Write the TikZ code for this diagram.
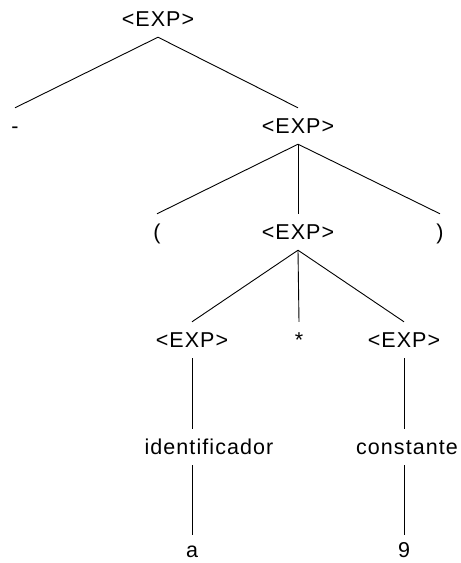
\documentclass[tikz,border=0pt]{standalone}
\usepackage{fontspec}
\setmainfont{Liberation Sans}[LetterSpace=5]
\begin{document}
\begin{tikzpicture}[x=1pt,y=-1pt,
	sym/.style={anchor=base,inner sep=0pt,text height=25pt,text depth=11pt,font=\fontsize{21.5}{26}\selectfont},
	leaf/.style={sym,text height=22pt,text depth=1pt},
	edge/.style={line width=.9pt}]
	\useasboundingbox (0,0) rectangle (461,563);
	%ROOT
	\node[sym] (e0) at (158,26) {<EXP>};
	\node[sym] (minus) at (15,133) {-};
	\node[sym] (e1) at (298,133) {<EXP>};
	\draw[edge] (e0.south) -- (minus.north);
	\draw[edge] (e0.south) -- (e1.north);
	
	%PARENS
	\node[sym] (lp) at (157,239) {(};
	\node[sym] (e2) at (298,239) {<EXP>};
	\node[sym] (rp) at (440,239) {)};
	\draw[edge] (e1.south) -- (lp.north);
	\draw[edge] (e1.south) -- (e2.north);
	\draw[edge] (e1.south) -- (rp.north);
	
	%PRODUCT
	\node[sym] (e3) at (192,347) {<EXP>};
	\node[sym] (times) at (299,347) {*};
	\node[sym] (e4) at (404,347) {<EXP>};
	\draw[edge] (e2.south) -- (e3.north);
	\draw[edge] (e2.south) -- (times.north);
	\draw[edge] (e2.south) -- (e4.north);
	
	%LEAVES
	\node[sym] (ident) at (209,454) {identificador};
	\node[sym] (const) at (407,454) {constante};
	\node[leaf] (a) at (192,557) {a};
	\node[leaf] (nine) at (404,557) {9};
	\draw[edge] (e3.south) -- (e3.south |- ident.north);
	\draw[edge] (a.north |- ident.south) -- (a.north);
	\draw[edge] (e4.south) -- (e4.south |- const.north);
	\draw[edge] (nine.north |- const.south) -- (nine.north);
\end{tikzpicture}
\end{document}
